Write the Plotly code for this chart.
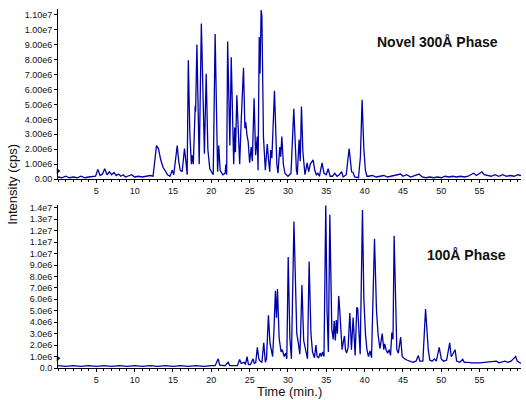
import plotly.graph_objects as go
from plotly.subplots import make_subplots

# ---------------- data ----------------
# intensities are in millions of cps
top_time = [0.0, 0.5, 1.0, 1.5, 2.0, 2.5, 3.0, 3.5, 4.0, 4.5, 4.9, 5.2, 5.5, 5.8, 6.1, 6.4, 6.7, 7.0,
            7.3, 7.6, 7.9, 8.2, 8.5, 8.8, 9.2, 9.6, 10.0, 10.5, 11.0, 11.5, 12.0, 12.4, 12.6, 12.85,
            13.1, 13.4, 13.7, 14.0, 14.3, 14.6, 14.9, 15.1, 15.3, 15.55, 15.75, 15.95, 16.2, 16.5,
            16.7, 16.85, 17.0, 17.2, 17.4, 17.5, 17.65, 17.9, 17.95, 18.12, 18.3, 18.42, 18.7, 18.95,
            19.1, 19.33, 19.55, 19.8, 20.0, 20.25, 20.5, 20.68, 20.82, 20.97, 21.15, 21.5, 21.8, 21.9,
            22.0, 22.13, 22.3, 22.42, 22.6, 22.78, 22.92, 23.05, 23.15, 23.33, 23.55, 23.7, 23.9,
            24.05, 24.2, 24.38, 24.5, 24.65, 24.8, 25.0, 25.2, 25.35, 25.58, 25.78, 26.0, 26.1,
            26.25, 26.35, 26.5, 26.6, 26.8, 27.05, 27.3, 27.5, 27.62, 27.75, 27.9, 28.24, 28.45,
            28.55, 28.7, 28.93, 29.05, 29.2, 29.4, 29.6, 30.0, 30.4, 30.76, 30.95, 31.1, 31.22,
            31.45, 31.6, 31.76, 31.95, 32.1, 32.22, 32.5, 32.7, 32.9, 33.28, 33.5, 33.7, 33.9, 34.1,
            34.45, 34.7, 35.0, 35.24, 35.5, 35.8, 36.1, 36.4, 36.7, 37.0, 37.2, 37.6, 37.98, 38.1,
            38.3, 38.5, 38.7, 39.2, 39.45, 39.67, 39.9, 40.1, 40.3, 40.5, 41.0, 41.5, 42.0, 42.5,
            43.0, 43.5, 44.0, 44.7, 45.0, 45.5, 46.0, 46.5, 47.1, 47.5, 48.0, 48.5, 49.0, 49.5,
            50.0, 50.5, 51.0, 51.5, 52.0, 52.5, 53.0, 53.5, 54.2, 54.6, 55.3, 55.6, 56.0, 56.5,
            57.0, 57.5, 58.0, 58.5, 59.0, 59.5, 60.0, 60.4]
top_intensity = [0.15, 0.1, 0.2, 0.1, 0.15, 0.1, 0.2, 0.1, 0.15, 0.15, 0.2, 0.65, 0.25, 0.35, 0.7, 0.3, 0.5, 0.3,
                 0.45, 0.25, 0.35, 0.2, 0.3, 0.15, 0.2, 0.3, 0.15, 0.2, 0.15, 0.2, 0.25, 0.2, 1.2, 2.25,
                 2.05, 1.3, 0.8, 0.5, 0.3, 0.2, 0.6, 0.3, 1.2, 2.25, 1.2, 0.6, 0.5, 2.05,
                 1.1, 0.3, 7.95, 3.0, 1.0, 1.6, 1.0, 4.9, 4.5, 9.0, 3.0, 1.0, 10.4, 4.1,
                 1.7, 7.05, 2.0, 0.7, 0.5, 0.3, 9.7, 3.0, 0.5, 2.25, 0.6, 0.3, 0.4, 1.0,
                 0.3, 9.2, 4.1, 2.25, 8.15, 2.5, 1.0, 3.45, 1.8, 5.6, 2.0, 1.0, 3.9,
                 5.5, 7.45, 3.4, 3.8, 2.95, 2.55, 1.1, 2.15, 1.2, 5.4, 1.6, 2.85, 0.6,
                 9.5, 7.05, 11.3, 10.9, 2.85, 0.6, 2.35, 1.1, 0.5, 1.95, 1.4, 5.9, 2.0,
                 1.0, 0.4, 2.15, 1.5, 2.85, 1.0, 0.4, 0.2, 0.4, 4.7, 1.5, 0.6, 0.3,
                 2.65, 1.2, 4.85, 1.8, 0.6, 0.3, 1.1, 0.5, 1.0, 1.3, 0.6, 0.3, 0.4, 0.2,
                 1.1, 0.4, 0.3, 0.7, 0.2, 0.2, 0.4, 0.2, 0.3, 0.5, 0.15, 0.3, 2.05, 1.3,
                 0.5, 0.45, 0.15, 0.1, 1.5, 5.3, 2.0, 0.6, 0.2, 0.2, 0.25, 0.15, 0.2, 0.25,
                 0.15, 0.2, 0.25, 0.35, 0.2, 0.3, 0.15, 0.25, 0.35, 0.15, 0.1, 0.15, 0.1, 0.15,
                 0.1, 0.2, 0.15, 0.2, 0.15, 0.2, 0.15, 0.2, 0.4, 0.25, 0.5, 0.3, 0.25, 0.2,
                 0.3, 0.2, 0.3, 0.2, 0.25, 0.2, 0.3, 0.25]

bottom_time = [0.0, 1.0, 2.0, 3.0, 4.0, 5.0, 6.0, 7.0, 8.0, 9.0, 10.0, 11.0, 12.0, 13.0, 14.0, 15.0,
               16.0, 17.0, 18.0, 19.0, 20.0, 20.5, 20.9, 21.1, 21.8, 22.2, 22.4, 23.4, 23.7, 23.9,
               24.3, 24.45, 24.66, 24.85, 25.1, 25.3, 25.45, 25.6, 25.8, 26.0, 26.2, 26.35, 26.6,
               26.84, 27.05, 27.2, 27.45, 27.65, 27.8, 28.0, 28.18, 28.36, 28.5, 28.63, 28.85, 29.1,
               29.2, 29.3, 29.5, 29.7, 29.85, 30.03, 30.25, 30.45, 30.78, 31.0, 31.15, 31.35, 31.55,
               31.65, 31.82, 32.05, 32.3, 32.55, 32.76, 33.0, 33.2, 33.45, 33.65, 33.8, 34.0, 34.2,
               34.35, 34.5, 34.7, 34.93, 35.1, 35.27, 35.46, 35.65, 35.72, 35.9, 36.03, 36.18, 36.3,
               36.45, 36.62, 36.76, 36.95, 37.06, 37.2, 37.37, 37.5, 37.65, 37.85, 38.07, 38.28,
               38.5, 38.76, 38.98, 39.1, 39.25, 39.42, 39.72, 39.9, 40.12, 40.3, 40.5, 40.7, 40.9,
               41.29, 41.55, 41.76, 42.0, 42.3, 42.5, 42.62, 42.8, 43.0, 43.2, 43.38, 43.55, 43.7,
               43.85, 44.05, 44.2, 44.4, 44.7, 44.9, 45.2, 45.5, 45.9, 46.3, 46.7, 47.0, 47.2, 47.6,
               47.95, 48.15, 48.3, 48.5, 48.8, 49.1, 49.35, 49.73, 50.0, 50.3, 50.7, 51.1, 51.3,
               51.5, 51.8, 52.0, 52.4, 52.8, 53.0, 53.5, 54.0, 55.0, 56.0, 57.2, 57.5, 58.3, 58.7,
               59.1, 59.4, 59.7, 59.9, 60.2, 60.4]
bottom_intensity = [0.2, 0.15, 0.2, 0.15, 0.2, 0.15, 0.2, 0.15, 0.2, 0.15, 0.2, 0.15, 0.2, 0.15, 0.2, 0.15,
                    0.2, 0.15, 0.2, 0.15, 0.2, 0.2, 0.8, 0.25, 0.2, 0.5, 0.2, 0.2, 0.75, 0.4,
                    0.5, 0.3, 1.0, 0.3, 0.3, 0.6, 0.8, 0.4, 0.5, 1.8, 0.8, 0.6, 0.5,
                    2.2, 0.5, 0.8, 4.6, 2.2, 1.5, 1.0, 3.4, 6.75, 4.4, 6.9, 2.6, 1.4,
                    1.6, 1.5, 1.0, 1.3, 0.8, 9.7, 2.6, 0.8, 12.8, 5.0, 3.0, 2.2, 1.2,
                    3.0, 7.25, 2.4, 1.4, 0.8, 9.3, 3.0, 1.4, 0.9, 2.0, 1.0, 0.9, 1.3,
                    1.0, 1.4, 1.0, 14.2, 5.0, 1.4, 13.4, 4.0, 3.4, 2.5, 4.1, 2.4, 4.2,
                    3.0, 6.3, 5.0, 3.0, 1.6, 2.2, 2.8, 1.6, 1.3, 1.8, 4.8, 1.6,
                    4.4, 1.1, 5.3, 5.2, 2.6, 1.2, 13.8, 6.0, 2.9, 1.6, 1.0, 1.5, 0.9,
                    11.3, 5.0, 2.9, 1.7, 3.0, 1.6, 2.1, 1.6, 1.3, 1.6, 1.1, 3.1, 2.5,
                    11.55, 4.0, 1.6, 1.3, 2.7, 1.0, 0.8, 0.7, 0.6, 0.5, 0.6, 1.1, 0.6, 0.6,
                    5.15, 2.5, 1.6, 0.7, 0.6, 0.8, 0.6, 1.8, 0.8, 0.6, 0.7, 2.2, 1.0,
                    1.2, 1.6, 0.6, 0.5, 0.75, 0.5, 0.5, 0.45, 0.45, 0.5, 0.6, 0.45, 0.6, 0.5,
                    0.6, 0.8, 1.0, 0.6, 0.5, 0.4]

# threshold markers on the y axes (millions of cps)
top_threshold = 0.55
bottom_threshold = 0.85

top_tick_values = [0, 1, 2, 3, 4, 5, 6, 7, 8, 9, 10, 11]
top_tick_labels = ["0.00", "1.00e6", "2.00e6", "3.00e6", "4.00e6", "5.00e6", "6.00e6",
                   "7.00e6", "8.00e6", "9.00e6", "1.00e7", "1.10e7"]
bottom_tick_values = [0, 1, 2, 3, 4, 5, 6, 7, 8, 9, 10, 11, 12, 13, 14]
bottom_tick_labels = ["0.0", "1.0e6", "2.0e6", "3.0e6", "4.0e6", "5.0e6", "6.0e6", "7.0e6",
                      "8.0e6", "9.0e6", "1.0e7", "1.1e7", "1.2e7", "1.3e7", "1.4e7"]
x_tick_values = [5, 10, 15, 20, 25, 30, 35, 40, 45, 50, 55]

top_label = "Novel 300Å Phase"
bottom_label = "100Å Phase"

M = 1e6
LINE = "#0000A8"
FONT = "Liberation Sans, Arial, sans-serif"
TXT = "#111111"

fig = make_subplots(rows=2, cols=1, shared_xaxes=False, vertical_spacing=0.05)

fig.add_trace(go.Scatter(x=top_time, y=[v * M for v in top_intensity], mode="lines",
                         line=dict(color=LINE, width=1.3), showlegend=False), row=1, col=1)
fig.add_trace(go.Scatter(x=bottom_time, y=[v * M for v in bottom_intensity], mode="lines",
                         line=dict(color=LINE, width=1.3), showlegend=False), row=2, col=1)
fig.add_trace(go.Scatter(x=[0], y=[top_threshold * M], mode="markers", cliponaxis=False,
                         marker=dict(symbol="triangle-right", size=5, color="#101040"),
                         showlegend=False), row=1, col=1)
fig.add_trace(go.Scatter(x=[0], y=[bottom_threshold * M], mode="markers", cliponaxis=False,
                         marker=dict(symbol="triangle-right", size=5, color="#101040"),
                         showlegend=False), row=2, col=1)

xcommon = dict(range=[0, 60.4], showgrid=False, zeroline=False, showline=True,
               linecolor="black", linewidth=1, ticks="outside", ticklen=3, tickcolor="black",
               tickvals=x_tick_values, tickfont=dict(size=9, color=TXT, family=FONT),
               minor=dict(dtick=1, ticks="outside", ticklen=2, tickcolor="black", showgrid=False))
fig.update_xaxes(**xcommon)

ycommon = dict(showgrid=False, zeroline=False, showline=True, linecolor="black", linewidth=1,
               ticks="outside", ticklen=3, tickcolor="black",
               tickfont=dict(size=9, color=TXT, family=FONT))
fig.update_yaxes(**ycommon)

fig.update_layout(
    width=526, height=400,
    margin=dict(l=58, r=5, t=8, b=31.5),
    paper_bgcolor="white", plot_bgcolor="white",
    font=dict(family=FONT, color=TXT),
    xaxis=dict(domain=[0, 1]),
    xaxis2=dict(domain=[0, 1]),
    yaxis=dict(domain=[0.5243, 0.9986], range=[0, 11.4 * M],
               tickvals=[v * M for v in top_tick_values], ticktext=top_tick_labels),
    yaxis2=dict(domain=[0, 0.453], range=[0, 14.25 * M],
                tickvals=[v * M for v in bottom_tick_values], ticktext=bottom_tick_labels),
    annotations=[
        dict(text="<b>" + top_label + "</b>", x=49.5, y=9.17 * M, xref="x", yref="y",
             showarrow=False, font=dict(size=14, family=FONT, color=TXT),
             xanchor="center", yanchor="middle"),
        dict(text="<b>" + bottom_label + "</b>", x=53.3, y=9.9 * M, xref="x2", yref="y2",
             showarrow=False, font=dict(size=14, family=FONT, color=TXT),
             xanchor="center", yanchor="middle"),
        dict(text="Intensity (cps)", textangle=-90, x=-0.097, y=(368.5 - 185) / 360.5,
             xref="paper", yref="paper", showarrow=False, xanchor="center", yanchor="middle",
             font=dict(size=13, family=FONT, color=TXT)),
        dict(text="Time (min.)", x=(289 - 58) / 463, y=-(392 - 368.5) / 360.5,
             xref="paper", yref="paper", showarrow=False, xanchor="center", yanchor="middle",
             font=dict(size=13, family=FONT, color=TXT)),
    ],
)

fig.write_html("out.html", config={"displayModeBar": False},
               post_script="document.body.style.margin='0';")
